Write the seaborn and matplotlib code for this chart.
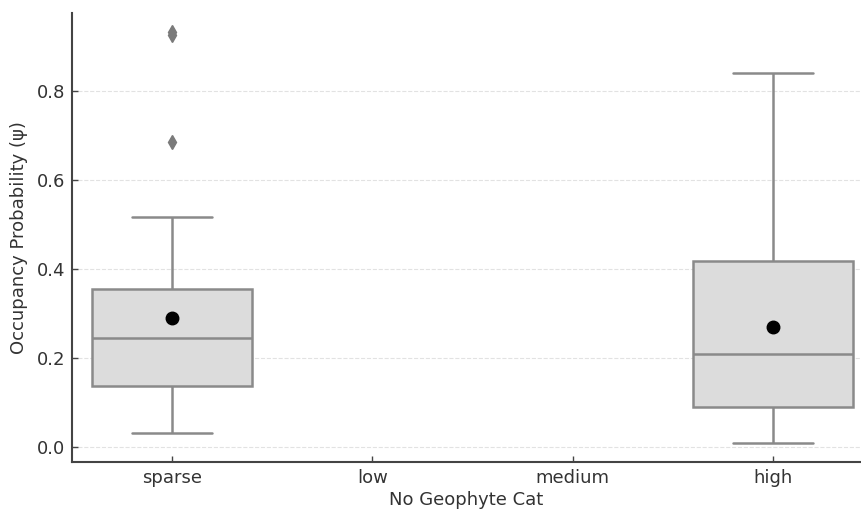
import numpy as np
import pandas as pd
import matplotlib
matplotlib.use("Agg")
import matplotlib.pyplot as plt
import seaborn as sns

# Occupancy probability per site, grouped by geophyte cover category
categories = ["sparse", "low", "medium", "high"]

psi_sparse = [
    0.031, 0.052, 0.070, 0.085, 0.096, 0.105, 0.113, 0.120, 0.127, 0.132,
    0.138, 0.148, 0.160, 0.172, 0.185, 0.204, 0.220, 0.230, 0.238, 0.242,
    0.244, 0.285, 0.300, 0.310, 0.318, 0.326, 0.334, 0.340, 0.346, 0.350,
    0.354, 0.360, 0.370, 0.390, 0.410, 0.440, 0.480, 0.517, 0.685, 0.925,
    0.932,
]

psi_high = [
    0.010, 0.018, 0.026, 0.034, 0.042, 0.050, 0.058, 0.066, 0.074, 0.082,
    0.090, 0.098, 0.110, 0.122, 0.134, 0.146, 0.158, 0.172, 0.186, 0.200,
    0.209, 0.225, 0.245, 0.265, 0.285, 0.305, 0.330, 0.355, 0.380, 0.405,
    0.418, 0.435, 0.455, 0.480, 0.505, 0.530, 0.560, 0.600, 0.650, 0.690,
    0.839,
]

df = pd.DataFrame({
    "cat": ["sparse"] * len(psi_sparse) + ["high"] * len(psi_high),
    "psi": psi_sparse + psi_high,
})

sns.set_style("white")
plt.rcParams["font.family"] = ["DejaVu Sans"]

fig = plt.figure(figsize=(8.62, 5.11), dpi=100)
ax = fig.add_axes([0.0835, 0.0959, 0.9142, 0.8787])

edge = "#8a8a8a"
sns.boxplot(
    data=df, x="cat", y="psi", order=categories, ax=ax,
    color="#dcdcdc", width=0.8, linewidth=1.8, linecolor=edge,
    showmeans=True,
    meanprops=dict(marker="o", markerfacecolor="black", markeredgecolor="black",
                   markersize=9),
    flierprops=dict(marker="d", markerfacecolor="#7a7a7a", markeredgecolor="#7a7a7a",
                    markersize=7),
)

ax.set_xlim(-0.5, 3.434)
ax.set_ylim(-0.033, 0.974)
ax.set_yticks([0.0, 0.2, 0.4, 0.6, 0.8])
ax.set_yticklabels(["0.0", "0.2", "0.4", "0.6", "0.8"])
ax.yaxis.grid(True, linestyle="--", color="#e2e2e2", linewidth=0.8)
ax.set_axisbelow(True)

for side in ["top", "right"]:
    ax.spines[side].set_visible(False)
for side in ["left", "bottom"]:
    ax.spines[side].set_color("#444444")
    ax.spines[side].set_linewidth(1.5)

ax.tick_params(axis="both", which="major", bottom=True, left=True,
               direction="in", length=4, width=1, color="#444444",
               pad=5, labelsize=13, labelcolor="#333333")
ax.set_xlabel("No Geophyte Cat", fontsize=13, color="#333333", labelpad=3)
ax.set_ylabel("Occupancy Probability (ψ)", fontsize=13, color="#333333", labelpad=6)

fig.savefig("out.png", dpi=100)
